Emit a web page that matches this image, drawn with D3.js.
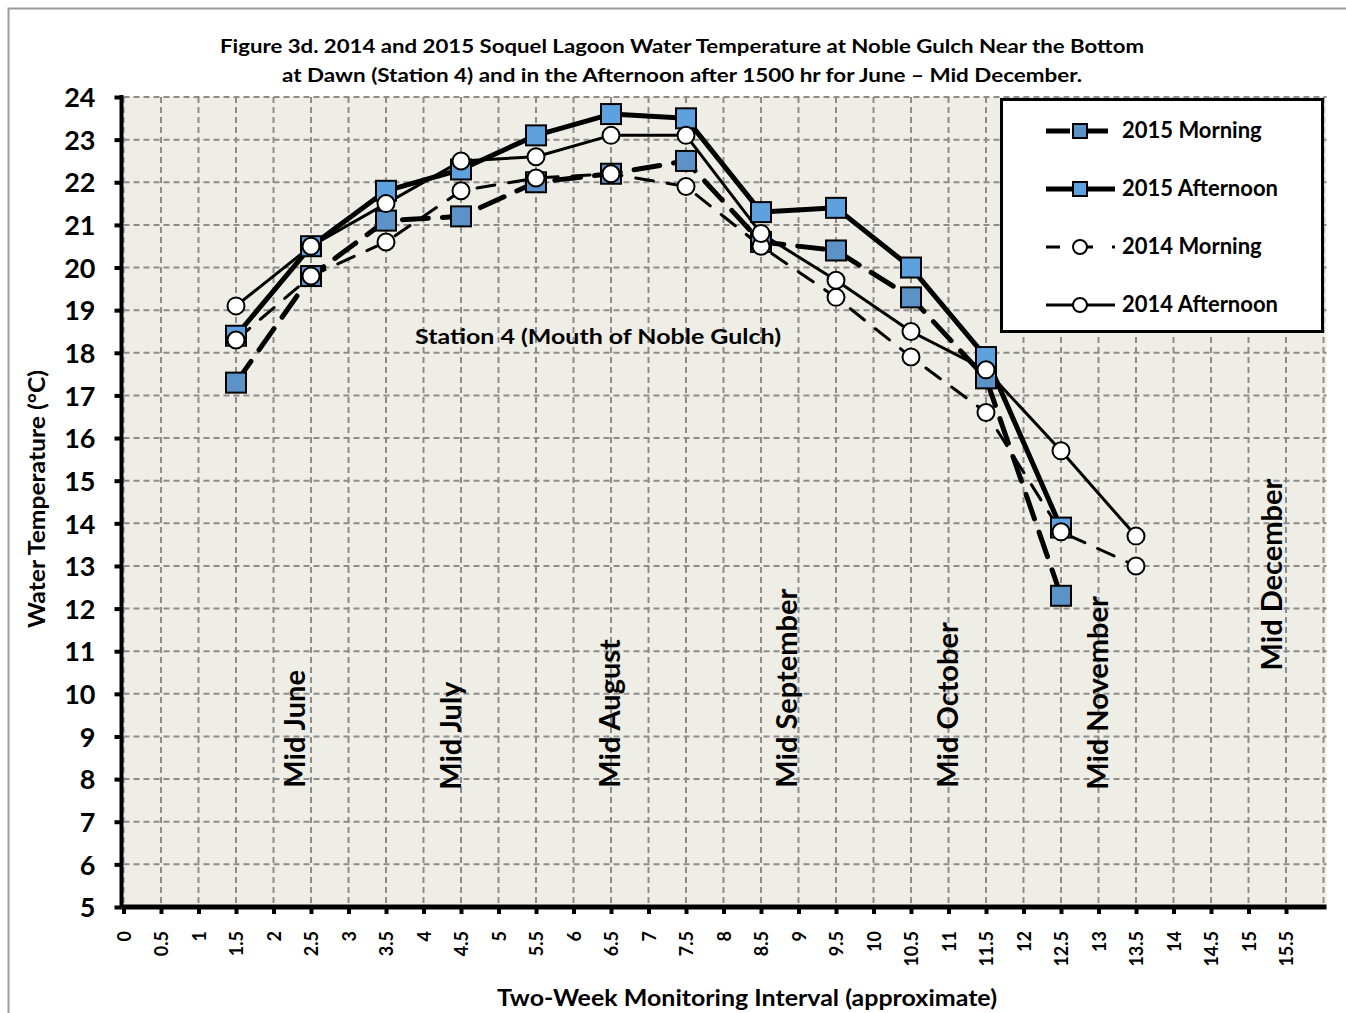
<!DOCTYPE html>
<html><head><meta charset="utf-8">
<script src="https://cdn.jsdelivr.net/npm/d3@7"></script>
<style>body{margin:0;background:#fff;} text{font-family:Lato, "Open Sans", sans-serif;font-weight:bold;}</style>
</head><body><svg id="c" width="1346" height="1013"></svg>
<script>
const xs = [1.5,2.5,3.5,4.5,5.5,6.5,7.5,8.5,9.5,10.5,11.5,12.5,13.5];
const morning2015 = [17.3,19.8,21.1,21.2,22.0,22.2,22.5,20.6,20.4,19.3,17.4,12.3];
const afternoon2015 = [18.4,20.5,21.8,22.3,23.1,23.6,23.5,21.3,21.4,20.0,17.9,13.9];
const morning2014 = [18.3,19.8,20.6,21.8,22.1,22.2,21.9,20.5,19.3,17.9,16.6,13.8,13.0];
const afternoon2014 = [19.1,20.5,21.5,22.5,22.6,23.1,23.1,20.8,19.7,18.5,17.6,15.7,13.7];
const seriesNames = ["2015 Morning","2015 Afternoon","2014 Morning","2014 Afternoon"];
const xTicks = d3.range(0,16,0.5);
const yTicks = d3.range(5,25,1);
const monthLabels = ["Mid June","Mid July","Mid August","Mid September","Mid October","Mid November","Mid December"];
const monthX = [2.29,4.37,6.49,8.85,10.99,12.99,15.31];
const monthY = [7.8,7.75,7.8,7.8,7.8,7.75,10.55];
const titleLines = ["Figure 3d. 2014 and 2015 Soquel Lagoon Water Temperature at Noble Gulch Near the Bottom",
 "at Dawn (Station 4) and in the Afternoon after 1500 hr for June \u2013 Mid December."];

const svg = d3.select("#c");
// outer frame
svg.append("rect").attr("x",8.5).attr("y",8.5).attr("width",1345).attr("height",1010)
  .attr("fill","#fff").attr("stroke","#9a9a9a").attr("stroke-width",2);

const L=123.5, R=1323.5, T=97, B=907;
const x = d3.scaleLinear().domain([0,16]).range([L,R]);
const y = d3.scaleLinear().domain([5,24]).range([B,T]);

svg.append("rect").attr("x",L).attr("y",T).attr("width",R-L+3).attr("height",B-T).attr("fill","#efeee6");

// grid
const g = svg.append("g");
g.selectAll(".vg").data(xTicks.concat([16])).join("line")
  .attr("x1",d=>x(d)).attr("x2",d=>x(d)).attr("y1",T).attr("y2",B)
  .attr("stroke","#8c8c8c").attr("stroke-width",2).attr("stroke-dasharray","6,4");
g.selectAll(".hg").data(yTicks).join("line")
  .attr("x1",L).attr("x2",R+3).attr("y1",d=>y(d)).attr("y2",d=>y(d))
  .attr("stroke","#8c8c8c").attr("stroke-width",2).attr("stroke-dasharray","6,4");

// title
titleLines.forEach((t,i)=>{
  svg.append("text").attr("x",682).attr("y",53+i*29).attr("text-anchor","middle")
    .attr("font-size",19).attr("textLength", i==0?924:800).attr("lengthAdjust","spacingAndGlyphs").text(t);
});

// station label
svg.append("text").attr("x",598).attr("y",344).attr("text-anchor","middle").attr("font-size",21)
  .attr("textLength",366).attr("lengthAdjust","spacingAndGlyphs").text("Station 4 (Mouth of Noble Gulch)");

// month labels
monthLabels.forEach((m,i)=>{
  svg.append("text").attr("transform",`translate(${x(monthX[i])+10},${y(monthY[i])}) rotate(-90)`)
    .attr("font-size",29).attr("text-anchor","start").text(m);
});

// axes
const xAxis = d3.axisBottom(x).tickValues(xTicks).tickSize(7).tickFormat("");
const xa = svg.append("g").attr("transform",`translate(0,${B})`).call(xAxis);
xa.select(".domain").attr("stroke","#000").attr("stroke-width",5).attr("d",`M${L-2},0H${R+3}`);
xa.selectAll(".tick line").attr("stroke","#000").attr("stroke-width",4);
xa.selectAll(".tick").append("text").attr("transform","translate(6.5,24) rotate(-90)")
  .attr("text-anchor","end").attr("fill","#000").attr("font-size",18).text(d=>d3.format("")(d));

const yAxis = d3.axisLeft(y).tickValues(yTicks).tickSize(7).tickFormat("");
const ya = svg.append("g").attr("transform",`translate(${L-2},0)`).call(yAxis);
ya.select(".domain").attr("stroke","#000").attr("stroke-width",4).attr("d",`M0,${T-2}V${B}`);
ya.selectAll(".tick line").attr("stroke","#000").attr("stroke-width",4);
ya.selectAll(".tick").append("text").attr("x",-26).attr("dy","0.36em").attr("text-anchor","end")
  .attr("fill","#000").attr("font-size",27).text(d=>d);

svg.append("text").attr("transform","translate(45,499) rotate(-90)").attr("text-anchor","middle")
  .attr("font-size",22).attr("textLength",258).attr("lengthAdjust","spacingAndGlyphs").text("Water Temperature (\u00B0C)");
svg.append("text").attr("x",747).attr("y",1006).attr("text-anchor","middle").attr("font-size",23)
  .attr("textLength",500).attr("lengthAdjust","spacingAndGlyphs").text("Two-Week Monitoring Interval (approximate)");

// series
const series = [
  {name:seriesNames[0], vals:morning2015, marker:"sq", fill:"#5b93c8", w:5, dash:"26,14"},
  {name:seriesNames[1], vals:afternoon2015, marker:"sq", fill:"#5ea1df", w:5, dash:null},
  {name:seriesNames[2], vals:morning2014, marker:"ci", fill:"#fff", w:3, dash:"18,14"},
  {name:seriesNames[3], vals:afternoon2014, marker:"ci", fill:"#fff", w:3, dash:null}
];
const line = d3.line().x(d=>x(d[0])).y(d=>y(d[1]));
series.forEach(s=>{
  const pts = s.vals.map((v,i)=>[xs[i],v]);
  svg.append("path").attr("d",line(pts)).attr("fill","none").attr("stroke","#000")
    .attr("stroke-width",s.w).attr("stroke-dasharray",s.dash).attr("stroke-linejoin","round").attr("stroke-linecap","round");
});
function marker(sel, s, cx, cy){
  if(s.marker==="sq") sel.append("rect").attr("x",cx-10).attr("y",cy-10).attr("width",20).attr("height",20)
     .attr("fill",s.fill).attr("stroke","#000").attr("stroke-width",2);
  else sel.append("circle").attr("cx",cx).attr("cy",cy).attr("r",8.5).attr("fill","#fff").attr("stroke","#000").attr("stroke-width",2);
}
series.forEach(s=>{
  const mg = svg.append("g");
  s.vals.forEach((v,i)=>marker(mg,s,x(xs[i]),y(v)));
});

// legend
const lg = svg.append("g");
lg.append("rect").attr("x",1001.5).attr("y",99.5).attr("width",321).attr("height",232)
  .attr("fill","#fff").attr("stroke","#000").attr("stroke-width",3);
series.forEach((s,i)=>{
  const cy = 131 + i*58;
  lg.append("line").attr("x1",1046).attr("x2",1115).attr("y1",cy).attr("y2",cy).attr("stroke","#000")
    .attr("stroke-width",s.w).attr("stroke-dasharray", s.dash ? (i==0?"24,14":"14,19") : null);
  if(s.marker==="sq") lg.append("rect").attr("x",1073).attr("y",cy-7).attr("width",14).attr("height",14)
     .attr("fill",s.fill).attr("stroke","#000").attr("stroke-width",2);
  else lg.append("circle").attr("cx",1080).attr("cy",cy).attr("r",7).attr("fill","#fff").attr("stroke","#000").attr("stroke-width",2);
  lg.append("text").attr("x",1122).attr("y",cy+7).attr("font-size",22).text(s.name);
});
</script></body></html>
